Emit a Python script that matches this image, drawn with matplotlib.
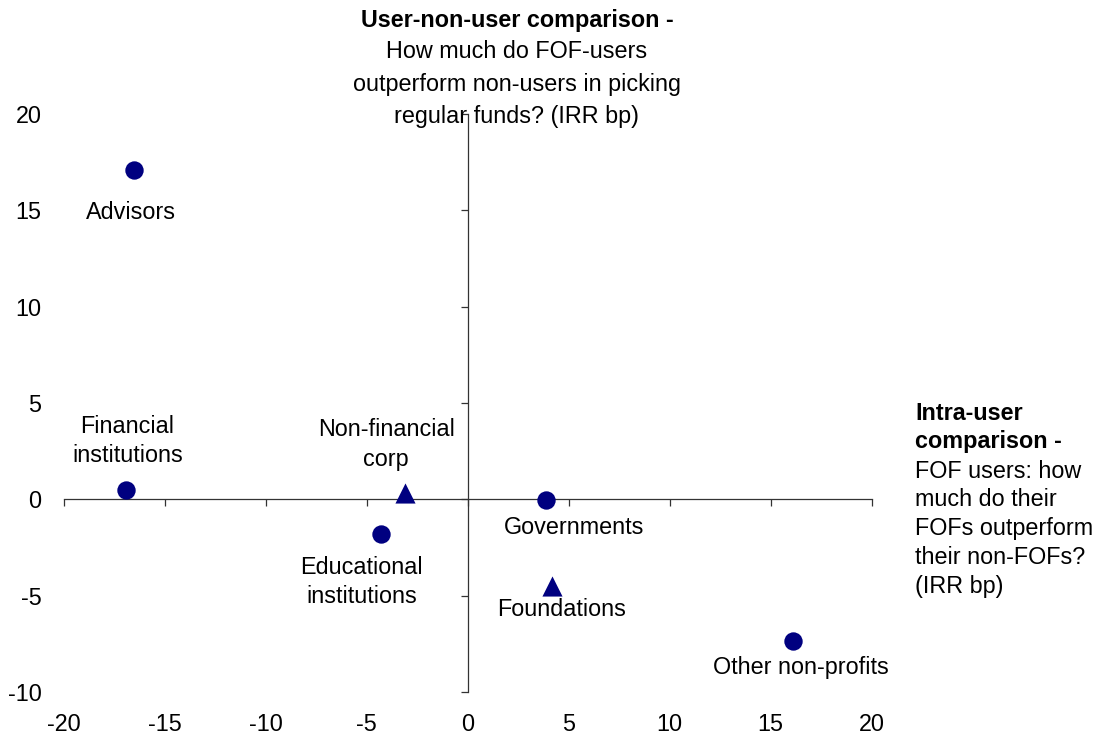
import matplotlib
matplotlib.use("Agg")
import matplotlib.pyplot as plt

plt.rcParams['font.family'] = ['Liberation Sans', 'DejaVu Sans']
plt.rcParams['axes.unicode_minus'] = False

# investor types, intra-user (x) vs user-non-user (y), IRR bp
names = ["Advisors", "Financial\ninstitutions", "Non-financial\ncorp",
         "Educational\ninstitutions", "Governments", "Foundations",
         "Other non-profits"]
x_vals = [-16.5, -16.9, -3.1, -4.3, 3.9, 4.15, 16.1]
y_vals = [17.1, 0.5, 0.35, -1.8, -0.05, -4.5, -7.35]
markers = ["o", "o", "^", "o", "o", "^", "o"]
# label offsets in pixels (dx, dy)
label_off = [(-3, -43), (1, 49), (-19, 48), (-19, -48), (28, -27), (10, -23), (8, -27)]

ticks_x = [-20, -15, -10, -5, 0, 5, 10, 15, 20]
ticks_y = [-10, -5, 0, 5, 10, 15, 20]

top_bold = ["User-non-user comparison -"]
top_text = ["How much do FOF-users", "outperform non-users in picking",
            "regular funds? (IRR bp)"]
right_bold = ["Intra-user", "comparison -"]
right_text = ["FOF users: how", "much do their", "FOFs outperform",
              "their non-FOFs?", "(IRR bp)"]

FS = 16.8
W, H = 1100, 742
fig = plt.figure(figsize=(W / 100, H / 100), dpi=100)
ax = fig.add_axes([63.7 / W, 1 - 692 / H, 808 / W, 578 / H])
ax.set_xlim(-20, 20)
ax.set_ylim(-10, 20)

navy = "#000080"
for xv, yv, m, n, off in zip(x_vals, y_vals, markers, names, label_off):
    ax.scatter([xv], [yv], marker=m, s=175 if m == "o" else 210, color=navy,
               zorder=3, clip_on=False, linewidths=0)
    ax.annotate(n, (xv, yv), xytext=off, textcoords="offset pixels",
                ha="center", va="center", fontsize=FS, linespacing=1.35)

for s in ["top", "right"]:
    ax.spines[s].set_visible(False)
ax.spines["left"].set_position(("data", 0))
ax.spines["bottom"].set_position(("data", 0))
for s in ["left", "bottom"]:
    ax.spines[s].set_linewidth(0.9)
    ax.spines[s].set_color("#333333")
ax.set_xticks(ticks_x)
ax.set_yticks(ticks_y)
ax.tick_params(direction="out", length=5, width=0.9, color="#333333",
               labelleft=False, labelbottom=False)

# tick labels at the outer frame
secx = ax.secondary_xaxis(0)
secx.set_xticks(ticks_x)
secx.spines["bottom"].set_visible(False)
secx.tick_params(length=0, pad=15, labelsize=FS)
secy = ax.secondary_yaxis(0)
secy.set_yticks(ticks_y)
secy.spines["left"].set_visible(False)
secy.tick_params(length=0, pad=16, labelsize=FS)

# axis captions
y0 = 20
for t in top_bold:
    fig.text(517 / W, 1 - y0 / H, t, ha="center", va="center", fontsize=FS,
             fontweight="bold")
    y0 += 32
for t in top_text:
    fig.text(517 / W, 1 - y0 / H, t, ha="center", va="center", fontsize=FS)
    y0 += 32

y0 = 413
for t in right_bold:
    fig.text(915 / W, 1 - y0 / H, t, ha="left", va="center", fontsize=FS,
             fontweight="bold")
    y0 += 29
for t in right_text:
    fig.text(915 / W, 1 - y0 / H, t, ha="left", va="center", fontsize=FS)
    y0 += 29

fig.savefig("out.png", dpi=100)
